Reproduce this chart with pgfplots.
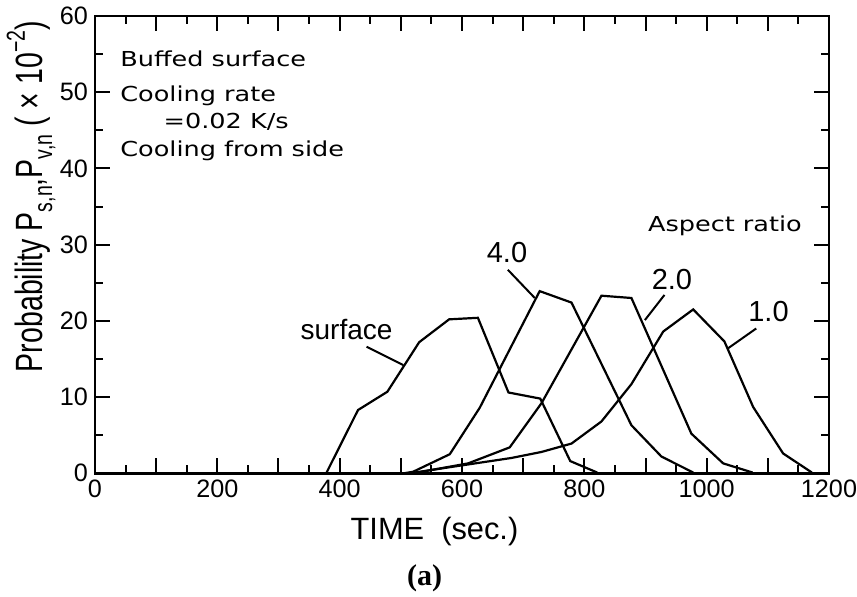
\documentclass[border=0pt]{standalone}
\usepackage{fontspec}
\setmainfont{Liberation Sans}
\newfontfamily\annfont[FakeStretch=1.24]{DejaVu Sans}
\newfontfamily\ylfont[FakeStretch=0.75]{Liberation Sans}
\newfontfamily\labserif{Liberation Serif}
\usepackage{pgfplots}
\pgfplotsset{compat=1.18}
\begin{document}
\begin{tikzpicture}
\useasboundingbox (-47.5pt,-61.85pt) rectangle (381pt,236.65pt);
\begin{axis}[
  scale only axis, width=367pt, height=228.65pt,
  at={(0,0)}, anchor=south west,
  xmin=0, xmax=1200, ymin=0, ymax=60,
  xtick={0,100,...,1200},
  xticklabels={0,,200,,400,,600,,800,,1000,,1200},
  minor x tick num=1,
  ytick={0,10,...,60},
  minor y tick num=1,
  major tick length=7.5pt, minor tick length=4pt,
  tick style={line width=1pt, black},
  axis line style={line width=1.4pt},
  tick label style={font=\fontsize{12.6}{14}\selectfont},
  /pgf/number format/assume math mode=true,
  clip=false,
  cycle list={{black, no markers, line width=1.1pt}},
]
% surface
\addplot[black, no markers, line width=1.1pt] coordinates {(378,0) (430,8.3) (478,10.7) (530,17.2) (579,20.2) (626,20.4) (676,10.6) (728,9.8) (777,1.6) (821,0.1)};
% aspect ratio 4.0
\addplot[black, no markers, line width=1.1pt] coordinates {(505,0) (520,0.2) (580,2.5) (629,8.6) (727,23.9) (779,22.4) (877,6.3) (926,2.2) (978,0.1)};
% aspect ratio 2.0
\addplot[black, no markers, line width=1.1pt] coordinates {(520,0) (610,1.3) (678,3.4) (730,9.2) (828,23.3) (877,23.0) (975,5.2) (1027,1.3) (1075,0.1)};
% aspect ratio 1.0
\addplot[black, no markers, line width=1.1pt] coordinates {(515,0) (580,0.8) (680,2.0) (730,2.8) (779,3.9) (828,6.8) (877,11.7) (929,18.6) (978,21.5) (1029,17.3) (1076,8.7) (1125,2.6) (1172,0.1)};
% pointer lines
\addplot[black, no markers, line width=1pt] coordinates {(444,16.6) (504,14.2)};
\addplot[black, no markers, line width=1pt] coordinates {(675,26.7) (719,23.0)};
\addplot[black, no markers, line width=1pt] coordinates {(931,23.4) (899,20.1)};
\addplot[black, no markers, line width=1pt] coordinates {(1081,19.0) (1035,16.4)};
% curve labels
\node[anchor=base east, inner sep=0pt, font=\fontsize{14}{16}\selectfont] at (axis cs:487,17.6) {surface};
\node[anchor=base west, inner sep=0pt, font=\fontsize{14.5}{16}\selectfont] at (axis cs:640,27.6) {4.0};
\node[anchor=base west, inner sep=0pt, font=\fontsize{14.5}{16}\selectfont] at (axis cs:909.6,24.1) {2.0};
\node[anchor=base west, inner sep=0pt, font=\fontsize{14.5}{16}\selectfont] at (axis cs:1067.5,19.9) {1.0};
\node[anchor=base west, inner sep=0pt, font=\annfont\fontsize{10.3}{12}\selectfont] at (axis cs:903.6,31.7) {Aspect ratio};
% annotation block
\node[anchor=base west, inner sep=0pt, font=\annfont\fontsize{10.3}{12}\selectfont] at (axis cs:40.8,53.4) {Buffed surface};
\node[anchor=base west, inner sep=0pt, font=\annfont\fontsize{10.3}{12}\selectfont] at (axis cs:40.8,48.8) {Cooling rate};
\node[anchor=base west, inner sep=0pt, font=\annfont\fontsize{10.3}{12}\selectfont] at (axis cs:111.6,45.3) {=0.02 K/s};
\node[anchor=base west, inner sep=0pt, font=\annfont\fontsize{10.3}{12}\selectfont] at (axis cs:40.8,41.5) {Cooling from side};
% axis labels
\node[anchor=base, font=\fontsize{15.4}{18}\selectfont] at (axis cs:555,-8.75) {TIME\ \ (sec.)};
\node[anchor=base, font=\labserif\bfseries\fontsize{15}{18}\selectfont] at (axis cs:539,-14.66) {(a)};
\node[rotate=90, anchor=base, font=\ylfont\fontsize{19}{22}\selectfont] at ([xshift=-26pt]axis cs:0,36.3)
  {Probability P\raisebox{-0.45ex}{\fontsize{13}{14}\selectfont s,n},P\raisebox{-0.45ex}{\fontsize{13}{14}\selectfont v,n} ( × 10\raisebox{0.9ex}{\fontsize{13}{14}\selectfont −2})};
\end{axis}
\end{tikzpicture}
\end{document}
